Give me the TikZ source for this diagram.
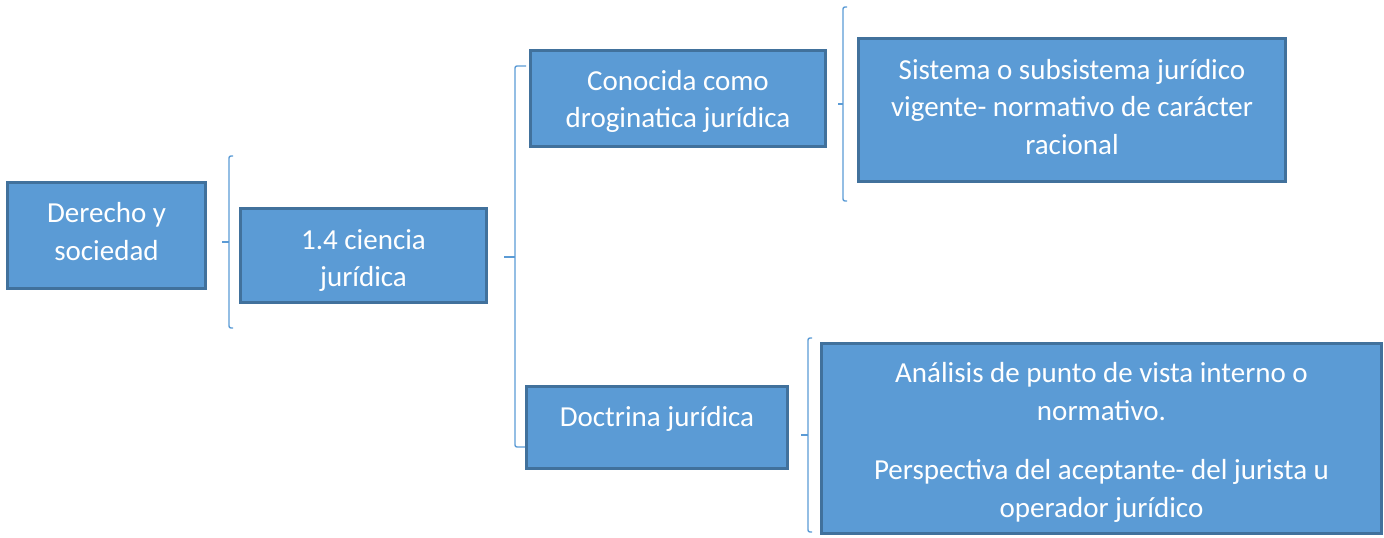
\documentclass[tikz,border=0pt]{standalone}
\usepackage{fontspec}
\setmainfont{Carlito}
\definecolor{boxfill}{HTML}{5B9BD5}
\definecolor{boxline}{HTML}{41719C}
\definecolor{brk}{HTML}{5B9BD5}
\begin{document}
\begin{tikzpicture}[x=1pt,y=-1pt,
  box/.style={draw=boxline,fill=boxfill,line width=3pt,inner sep=0pt},
  txt/.style={text=white,align=center,inner sep=0pt,font=\fontsize{29}{37.5}\selectfont},
  brace/.style={draw=brk,line width=1.4pt,rounded corners=2pt}]
\useasboundingbox (0,0) rectangle (1384,538);
% brackets (drawn first, under the boxes)
\coordinate (t1) at (222,242); \coordinate (v1) at (229,242);
\coordinate (t2) at (504,257); \coordinate (v2) at (515,257);
\coordinate (t3) at (838,104); \coordinate (v3) at (843,104);
\coordinate (t4) at (801,435); \coordinate (v4) at (808,435);
\draw[brace] (t1) -- (v1);
\draw[brace] (233,156) -- (229,156) -- (229,328) -- (233,328);
\draw[brace] (t2) -- (v2);
\draw[brace] (526,66) -- (515,66) -- (515,447) -- (526,447);
\draw[brace] (t3) -- (v3);
\draw[brace] (847,7) -- (843,7) -- (843,201) -- (847,201);
\draw[brace] (t4) -- (v4);
\draw[brace] (812,338) -- (808,338) -- (808,532) -- (812,532);
% boxes
\node[box,minimum width=198pt,minimum height=106pt] (a) at (106.5,235.5) {};
\node[box,minimum width=246pt,minimum height=94pt] (b) at (363.5,255.5) {};
\node[box,minimum width=295pt,minimum height=96pt] (c) at (678,98.5) {};
\node[box,minimum width=261pt,minimum height=82pt] (d) at (657,427.5) {};
\node[box,minimum width=427pt,minimum height=143pt] (e) at (1072,110) {};
\node[box,minimum width=560pt,minimum height=190pt] (f) at (1101.5,438.5) {};
% texts
\node[txt] (ta) at ([yshift=4pt]a.center) {Derecho y\\sociedad};
\node[txt] (tb) at ([yshift=-5pt]b.center) {1.4 ciencia\\jurídica};
\node[txt] (tc) at ([yshift=-3pt]c.center) {Conocida como\\droginatica jurídica};
\node[txt] (td) at ([yshift=9pt]d.center) {Doctrina jurídica};
\node[txt] (te) at ([yshift=3pt]e.center) {Sistema o subsistema jurídico\\vigente- normativo de carácter\\racional};
\node[txt] (tf) at ([yshift=-4pt]f.center) {Análisis de punto de vista interno o\\normativo.\\[22pt]Perspectiva del aceptante- del jurista u\\operador jurídico};
\end{tikzpicture}
\end{document}
